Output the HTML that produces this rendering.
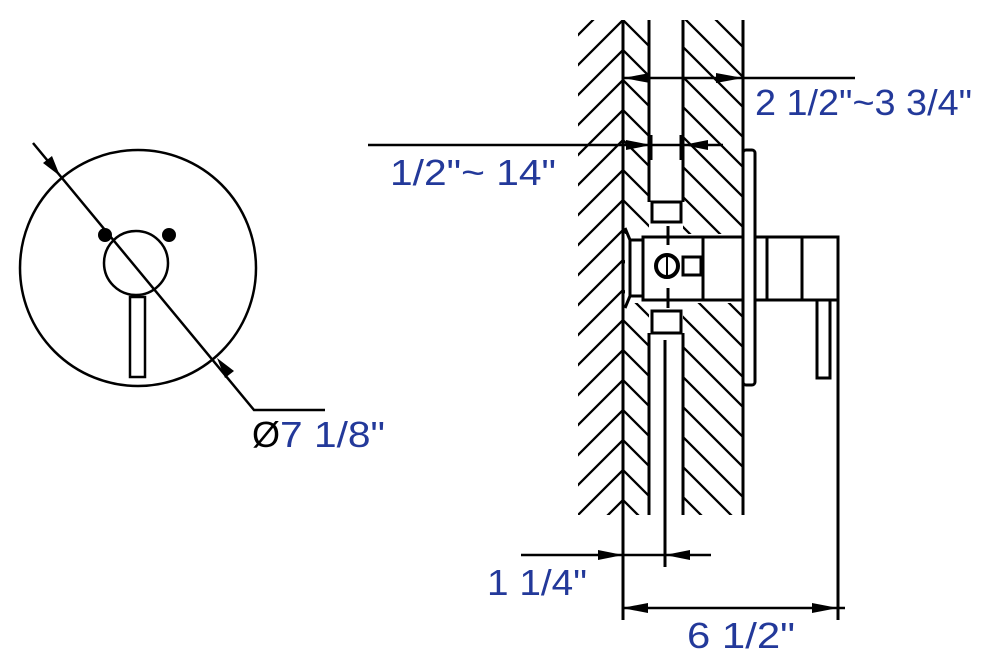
<!DOCTYPE html>
<html><head><meta charset="utf-8"><style>
html,body{margin:0;padding:0;background:#fff;}
svg{display:block;}
text{font-family:"Liberation Sans",sans-serif;fill:#23399a;}
</style></head><body>
<svg width="990" height="672" viewBox="0 0 990 672" xmlns="http://www.w3.org/2000/svg">
<defs>
<pattern id="fs" patternUnits="userSpaceOnUse" x="13" y="0" width="30" height="30">
<path d="M-5,5 L5,-5 M0,30 L30,0 M25,35 L35,25" stroke="#000" stroke-width="2.3"/>
</pattern>
<pattern id="bs1" patternUnits="userSpaceOnUse" x="3" y="0" width="30" height="30">
<path d="M-5,25 L5,35 M0,0 L30,30 M25,-5 L35,5" stroke="#000" stroke-width="2.3"/>
</pattern>
<pattern id="bs2" patternUnits="userSpaceOnUse" x="6" y="0" width="30" height="30">
<path d="M-5,25 L5,35 M0,0 L30,30 M25,-5 L35,5" stroke="#000" stroke-width="2.3"/>
</pattern>
</defs>

<!-- hatched wall -->
<rect x="578" y="20" width="45" height="495" fill="url(#fs)"/>
<rect x="623" y="20" width="26" height="495" fill="url(#bs1)"/>
<rect x="683" y="20" width="60" height="495" fill="url(#bs2)"/>
<!-- white-out behind valve body -->
<rect x="625" y="234" width="118" height="69" fill="#fff"/>

<g stroke="#000" stroke-width="3" fill="none">
<line x1="623" y1="20" x2="623" y2="620"/>
<line x1="649" y1="20" x2="649" y2="202"/>
<line x1="683" y1="20" x2="683" y2="202"/>
<line x1="743" y1="20" x2="743" y2="515"/>
<line x1="649" y1="333" x2="649" y2="515"/>
<line x1="683" y1="333" x2="683" y2="515"/>
<line x1="665" y1="340" x2="665" y2="567"/>
<line x1="838" y1="237" x2="838" y2="620"/>

<!-- valve -->
<rect x="652" y="202" width="29" height="20" fill="#fff"/>
<rect x="652" y="311" width="29" height="22" fill="#fff"/>
<rect x="643" y="237" width="100" height="63"/>
<line x1="703" y1="237" x2="703" y2="300"/>
<rect x="630" y="240" width="13" height="56"/>
<line x1="625" y1="228" x2="630" y2="240"/>
<line x1="625" y1="308" x2="630" y2="296"/>
<line x1="668" y1="226" x2="668" y2="245"/>
<line x1="668" y1="288" x2="668" y2="308"/>
<circle cx="667" cy="266" r="11" stroke-width="4"/>
<line x1="667" y1="256" x2="667" y2="276" stroke-width="2"/>
<rect x="683" y="257" width="18" height="18"/>
<!-- plate -->
<rect x="743" y="150" width="12" height="235" rx="3"/>
<!-- handle -->
<rect x="755" y="237" width="83" height="63"/>
<line x1="767" y1="237" x2="767" y2="300"/>
<line x1="802" y1="237" x2="802" y2="300"/>
<rect x="817" y="300" width="13" height="78"/>

<!-- dimension lines -->
<line x1="623" y1="78" x2="855" y2="78" stroke-width="2.5"/>
<line x1="368" y1="145" x2="723" y2="145" stroke-width="2.5"/>
<line x1="651" y1="135" x2="651" y2="160" stroke-width="3"/>
<line x1="681" y1="135" x2="681" y2="160" stroke-width="3"/>
<line x1="521" y1="555" x2="711" y2="555" stroke-width="2.5"/>
<line x1="622" y1="608" x2="845" y2="608" stroke-width="2.5"/>

<!-- left circle view -->
<circle cx="138" cy="268" r="118" stroke-width="2.5"/>
<circle cx="136" cy="263" r="32" stroke-width="2.5"/>
<rect x="130" y="297" width="15" height="80" stroke-width="2.5"/>
<polyline points="33,143 254,410 325,410" stroke-width="2.5"/>
</g>
<g fill="#000">
<circle cx="105" cy="235" r="7"/>
<circle cx="169" cy="235" r="7"/>
<polygon points="60,176 43,163 52,156"/>
<polygon points="217,358 234,371 225,378"/>
<polygon points="623,78 650,73 650,83"/>
<polygon points="743,78 716,73 716,83"/>
<polygon points="651,145 626,140 626,150"/>
<polygon points="683,145 708,140 708,150"/>
<polygon points="623,555 598,550 598,560"/>
<polygon points="665,555 690,550 690,560"/>
<polygon points="622,608 648,603 648,613"/>
<polygon points="838,608 812,603 812,613"/>
</g>

<text x="755" y="115" font-size="36" textLength="217" lengthAdjust="spacingAndGlyphs">2 1/2"~3 3/4"</text>
<text x="390" y="185" font-size="36" textLength="166" lengthAdjust="spacingAndGlyphs">1/2"~ 14"</text>
<text x="487" y="595" font-size="36" textLength="100" lengthAdjust="spacingAndGlyphs">1 1/4"</text>
<text x="687" y="648" font-size="36" textLength="108" lengthAdjust="spacingAndGlyphs">6 1/2"</text>
<text x="252" y="447" font-size="36" style="fill:#000">Ø</text>
<text x="280" y="447" font-size="36" textLength="105" lengthAdjust="spacingAndGlyphs">7 1/8"</text>
</svg>
</body></html>
